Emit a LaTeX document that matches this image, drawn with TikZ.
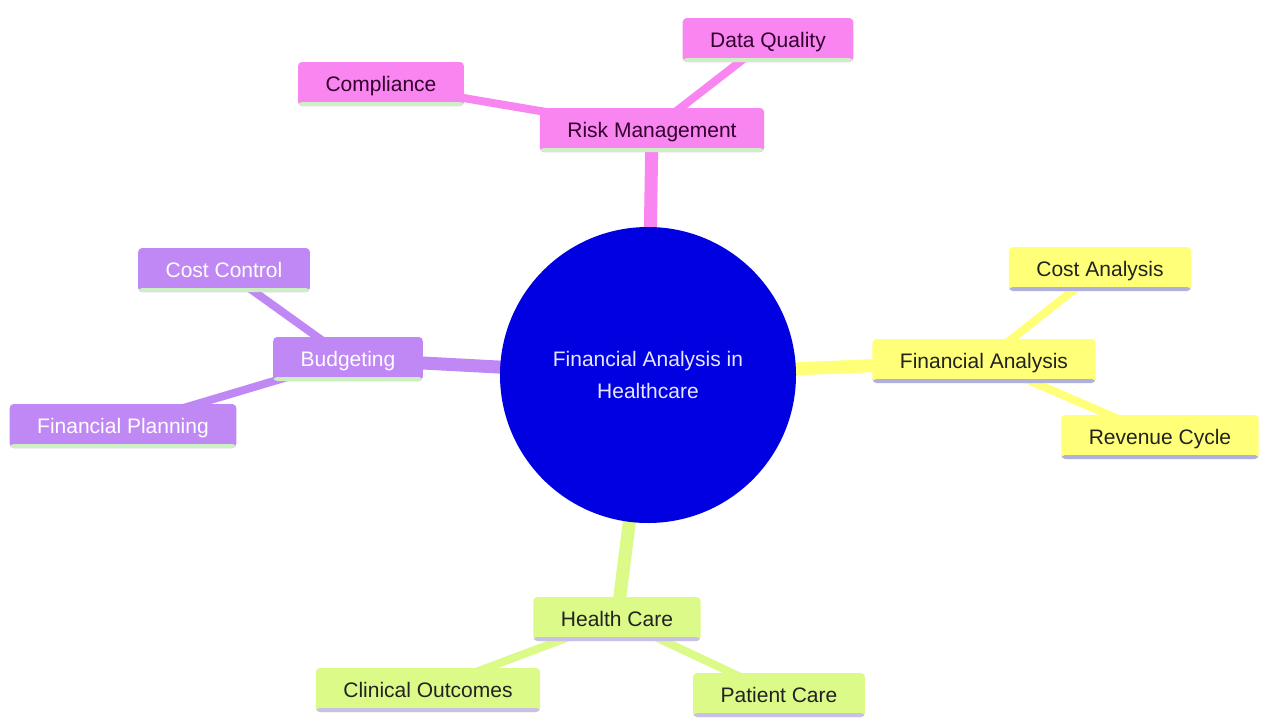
\documentclass[tikz,border=0pt]{standalone}
\usepackage{fontspec}
\setmainfont{Liberation Sans}
\usetikzlibrary{backgrounds}
\definecolor{pinkf}{HTML}{F985F0}
\definecolor{purpf}{HTML}{C088F5}
\definecolor{yelf}{HTML}{FFFF78}
\definecolor{limef}{HTML}{DBFA88}
\definecolor{greenstrip}{HTML}{CDEFC4}
\definecolor{bluestrip}{HTML}{B0B0DC}
\definecolor{lavstrip}{HTML}{C8C0E6}
\definecolor{rootblue}{HTML}{0000E0}
\definecolor{roottext}{HTML}{E6E6FF}
\definecolor{darkpink}{HTML}{33002E}
\definecolor{darktext}{HTML}{222222}
\tikzset{
  x=1pt, y=-1pt,
  box/.style={rectangle, rounded corners=4pt, minimum height=44pt, inner xsep=27.5pt,
    inner ysep=0pt, text height=15pt, text depth=0pt, font=\fontsize{21}{25}\selectfont},
  strip/.style={path picture={\fill[#1] ([yshift=0pt]path picture bounding box.south west)
    rectangle ([yshift=4pt]path picture bounding box.south east);}},
  pinkbox/.style={box, fill=pinkf, text=darkpink, strip=greenstrip},
  purpbox/.style={box, fill=purpf, text=white, strip=greenstrip},
  yelbox/.style={box, fill=yelf, text=darktext, strip=bluestrip},
  limebox/.style={box, fill=limef, text=darktext, strip=lavstrip},
  rootnode/.style={circle, fill=rootblue, text=roottext, minimum size=296pt, inner sep=0pt,
    align=center, font=\fontsize{21}{32}\selectfont},
  mainedge/.style={line width=13pt, draw=#1},
  leafedge/.style={line width=8pt, draw=#1},
}
\begin{document}
\begin{tikzpicture}
\useasboundingbox (0,0) rectangle (1261,720);
\node[rootnode] (root) at (648,375) {Financial Analysis in\\Healthcare};
\node[pinkbox] (risk) at (652,130) {Risk Management};
\node[pinkbox] (dq) at (768,40) {Data Quality};
\node[pinkbox] (comp) at (381,84) {Compliance};
\node[purpbox] (bud) at (348,359) {Budgeting};
\node[purpbox] (cc) at (224,270) {Cost Control};
\node[purpbox] (fp) at (123,426) {Financial Planning};
\node[yelbox] (fa) at (984,361) {Financial Analysis};
\node[yelbox] (ca) at (1100,269) {Cost Analysis};
\node[yelbox] (rc) at (1160,437) {Revenue Cycle};
\node[limebox] (hc) at (617,619) {Health Care};
\node[limebox] (co) at (428,690) {Clinical Outcomes};
\node[limebox] (pc) at (779,695) {Patient Care};
\begin{pgfonlayer}{background}
\fill[white] (0,0) rectangle (1261,720);
\draw[mainedge=pinkf] (root.center) -- (risk.center);
\draw[leafedge=pinkf] (risk.center) -- (dq.center);
\draw[leafedge=pinkf] (risk.center) -- (comp.center);
\draw[mainedge=purpf] (root.center) -- (bud.center);
\draw[leafedge=purpf] (bud.center) -- (cc.center);
\draw[leafedge=purpf] (bud.center) -- (fp.center);
\draw[mainedge=yelf] (root.center) -- (fa.center);
\draw[leafedge=yelf] (fa.center) -- (ca.center);
\draw[leafedge=yelf] (fa.center) -- (rc.center);
\draw[mainedge=limef] (root.center) -- (hc.center);
\draw[leafedge=limef] (hc.center) -- (co.center);
\draw[leafedge=limef] (hc.center) -- (pc.center);
\end{pgfonlayer}
\end{tikzpicture}
\end{document}
